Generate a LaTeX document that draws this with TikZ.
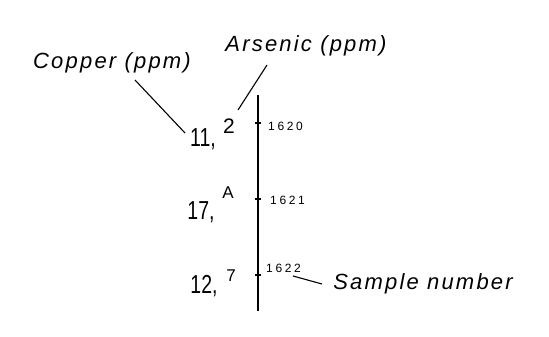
\documentclass[tikz,border=0pt]{standalone}
\usepackage{fontspec}
\setmainfont{Liberation Sans}
\newfontfamily\lblfont[LetterSpace=10]{Liberation Sans}
\newfontfamily\numfont[LetterSpace=22]{Liberation Sans}
\begin{document}
\begin{tikzpicture}[x=1pt,y=-1pt,
  lbl/.style={inner sep=0pt,font=\lblfont\fontsize{22}{24}\selectfont\itshape},
  hand/.style={inner sep=0pt,xscale=0.75,font=\fontsize{26}{28}\selectfont},
  sup/.style={inner sep=0pt,font=\fontsize{#1}{20}\selectfont},
  num/.style={inner sep=0pt,anchor=west,font=\numfont\fontsize{12}{13}\selectfont},
  ln/.style={line width=1.1pt},
  axis/.style={line width=1.3pt}]
\useasboundingbox (0,0) rectangle (549,337);
% labels
\node[lbl] (copper) at (112,63) {Copper (ppm)};
\node[lbl] (arsenic) at (306,46) {Arsenic (ppm)};
\node[lbl] (sample) at (423,284) {Sample number};
% axis
\coordinate (top) at (258,95);
\coordinate (bot) at (258,311);
\draw[axis] (top) -- (bot);
\coordinate (t1) at (258,123);
\coordinate (t2) at (258,199);
\coordinate (t3) at (258,275);
\foreach \t in {t1,t2,t3} \draw[ln] ([xshift=-3pt]\t) -- ([xshift=3pt]\t);
% sample numbers
\node[num] (s1) at (268,126) {1620};
\node[num] (s2) at (270,200) {1621};
\node[num] (s3) at (266,268) {1622};
% values
\node[hand] (c1) at (203,139) {11,};
\node[sup=21] (a1) at (229,126) {2};
\node[hand] (c2) at (201,212) {17,};
\node[sup=17] (a2) at (228,193) {A};
\node[hand] (c3) at (204,286) {12,};
\node[sup=17] (a3) at (231,276) {7};
% leaders
\coordinate (cp0) at (135,80);
\coordinate (cp1) at (185,133);
\coordinate (ar0) at (267,65);
\coordinate (ar1) at (238,110);
\coordinate (sm0) at (293,276);
\coordinate (sm1) at (322,284);
\draw[ln] (cp0) -- (cp1);
\draw[ln] (ar0) -- (ar1);
\draw[ln] (sm0) -- (sm1);
\end{tikzpicture}
\end{document}
